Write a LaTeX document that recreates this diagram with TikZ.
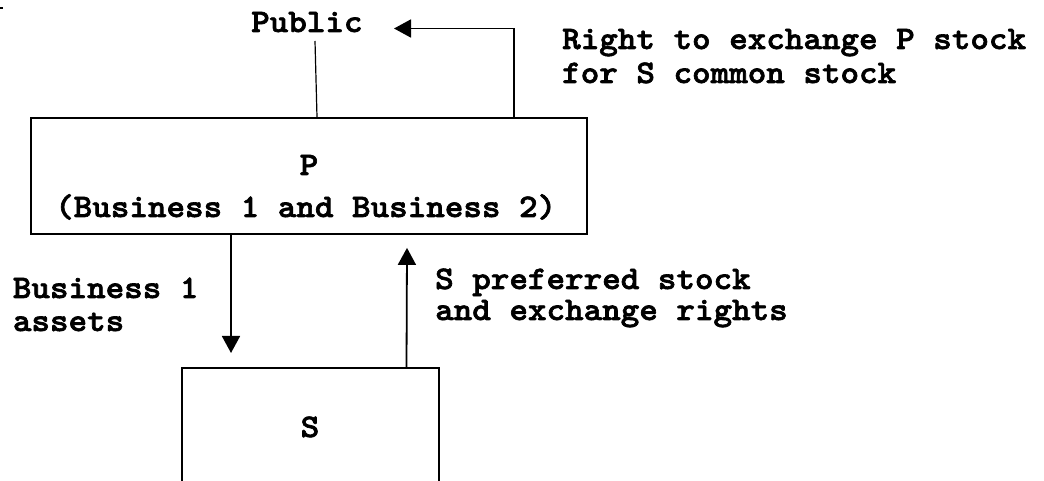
\documentclass[tikz,border=0pt]{standalone}
\usepackage{fontspec}
\newfontfamily\diagfont{lmmonolt10-bold.otf}[FakeStretch=1.075, FakeBold=2]
\usetikzlibrary{arrows.meta}

\begin{document}
\begin{tikzpicture}[x=1bp, y=-1bp,
	box/.style={draw, line width=1.8bp, inner sep=0pt},
	lbl/.style={anchor=base west, inner sep=0pt, font=\diagfont\fontsize{33}{36}\selectfont},
	arr/.style={line width=1.8bp, -{Triangle[length=17bp,width=18bp]}}]

	\useasboundingbox (0,0) rectangle (1044,481);
	\draw[line width=1.8bp] (0,8) -- (3,8);

	\node[box, minimum width=556bp, minimum height=116bp] (pbox) at (309,176) {};
	\node[lbl, anchor=base] (pname) at (309,175) {P};
	\node[lbl] (pbiz) at (55,217) {(Business 1 and Business 2)};

	\node[box, anchor=north, minimum width=257bp, minimum height=140bp] (sbox) at (310.5,367) {};
	\node[lbl, anchor=base] (sname) at (310,437) {S};

	\node[lbl] (public) at (251,32) {Public};
	\node[lbl] (rightA) at (562,49) {Right to exchange P stock};
	\node[lbl] (rightB) at (562,83) {for S common stock};
	\node[lbl] (bizA) at (12.7,298) {Business 1};
	\node[lbl] (bizB) at (12.7,331) {assets};
	\node[lbl] (prefA) at (435,289) {S preferred stock};
	\node[lbl] (prefB) at (435,320) {and exchange rights};

	\coordinate (pubfoot) at (315,41);
	\coordinate (pubtip) at (394,28.5);

	\draw[line width=1.2bp] ([xshift=8bp]pbox.north) -- (pubfoot);
	\draw[arr] ([xshift=205bp]pbox.north) |- (pubtip);
	\draw[arr] ([xshift=-78bp]pbox.south) -- ([xshift=-79.5bp,yshift=14bp]sbox.north);
	\draw[arr] ([xshift=96bp]sbox.north) -- ([xshift=98bp,yshift=-13bp]pbox.south);

\end{tikzpicture}
\end{document}
